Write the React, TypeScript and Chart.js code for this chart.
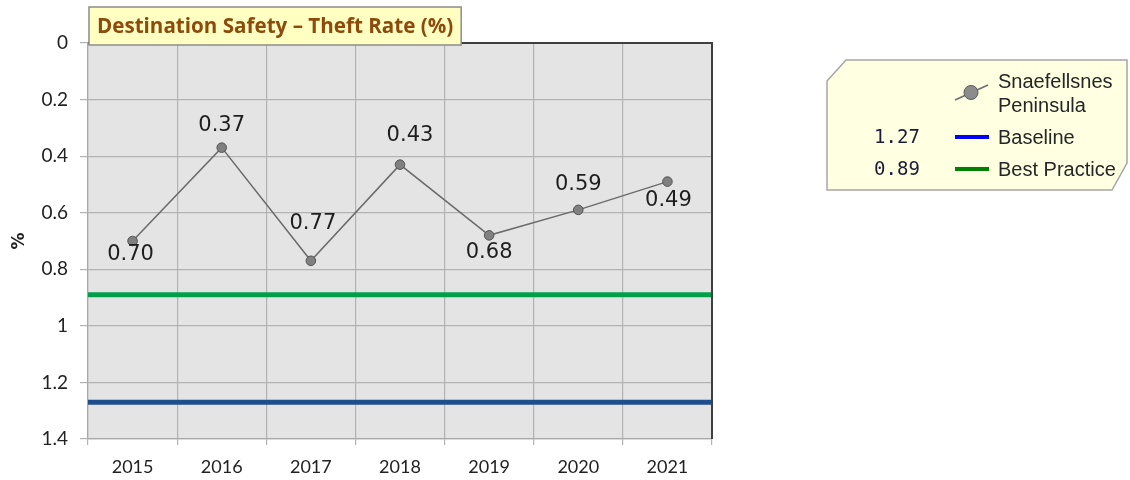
import React, { useEffect, useRef } from "react";
import { Chart, registerables } from "chart.js";

Chart.register(...registerables);

// ---- data ----
const years = ["2015", "2016", "2017", "2018", "2019", "2020", "2021"];
const theftRate = [0.7, 0.37, 0.77, 0.43, 0.68, 0.59, 0.49];
const seriesName = "Snaefellsnes Peninsula";
const baselineValue = 1.27;
const bestPracticeValue = 0.89;
const baselineLabel = "Baseline";
const bestPracticeLabel = "Best Practice";
const chartTitle = "Destination Safety \u2013 Theft Rate (%)";
const yAxisTitle = "%";
const yMin = 0;
const yMax = 1.4;
const yStep = 0.2;

// label placement (layout only): offsets of each value label from its point
const labelDx = [-2, 0, 2, 10, 0, 0, 1];
const labelDy = [14, -22, -37, -29, 17, -25, 19];

const W = 1130;
const H = 480;

const TICK_FONT = "Lato, 'Open Sans', sans-serif";
const TITLE_TARGET_WIDTH = 357;

const plotPlugin = {
  id: "plotDecor",
  beforeDraw(chart: any) {
    const { ctx, chartArea } = chart;
    ctx.save();
    ctx.fillStyle = "#FFFFFF";
    ctx.fillRect(0, 0, chart.width, chart.height);
    ctx.fillStyle = "#E4E4E4";
    ctx.fillRect(chartArea.left, chartArea.top, chartArea.right - chartArea.left, chartArea.bottom - chartArea.top);
    ctx.restore();
  },
  beforeDatasetsDraw(chart: any) {
    const { ctx, chartArea, scales } = chart;
    const y = scales.y;
    ctx.save();
    ctx.lineCap = "butt";
    ctx.lineWidth = 5;
    ctx.strokeStyle = "#00A04A";
    const yb = y.getPixelForValue(bestPracticeValue);
    ctx.beginPath();
    ctx.moveTo(chartArea.left, yb);
    ctx.lineTo(chartArea.right, yb);
    ctx.stroke();
    ctx.strokeStyle = "#1F4E8C";
    const yl = y.getPixelForValue(baselineValue);
    ctx.beginPath();
    ctx.moveTo(chartArea.left, yl);
    ctx.lineTo(chartArea.right, yl);
    ctx.stroke();
    ctx.restore();
  },
  afterDatasetsDraw(chart: any) {
    const { ctx } = chart;
    const meta = chart.getDatasetMeta(0);
    ctx.save();
    ctx.font = "21px 'DejaVu Sans', sans-serif";
    ctx.fillStyle = "#1E1E1E";
    ctx.textAlign = "center";
    ctx.textBaseline = "middle";
    meta.data.forEach((pt: any, i: number) => {
      ctx.fillText(theftRate[i].toFixed(2), pt.x + labelDx[i], pt.y + labelDy[i]);
    });
    ctx.restore();
  },
  afterDraw(chart: any) {
    const { ctx, chartArea } = chart;
    ctx.save();
    // top & right frame
    ctx.strokeStyle = "#3F3F3F";
    ctx.lineWidth = 2;
    ctx.beginPath();
    ctx.moveTo(chartArea.left, chartArea.top);
    ctx.lineTo(chartArea.right, chartArea.top);
    ctx.lineTo(chartArea.right, chartArea.bottom);
    ctx.stroke();

    // title box
    let fs = 18;
    ctx.font = `bold ${fs}px 'Open Sans', sans-serif`;
    const w0 = ctx.measureText(chartTitle).width;
    fs = Math.round(fs * (TITLE_TARGET_WIDTH / w0) * 10) / 10;
    ctx.font = `bold ${fs}px 'Open Sans', sans-serif`;
    const tw = ctx.measureText(chartTitle).width;
    const bx = 89;
    const by = 7;
    const bw = tw + 16;
    const bh = 38;
    ctx.fillStyle = "#FFFFC2";
    ctx.fillRect(bx, by, bw, bh);
    ctx.strokeStyle = "#8C8C8C";
    ctx.lineWidth = 1.5;
    ctx.strokeRect(bx, by, bw, bh);
    ctx.fillStyle = "#8E4A0C";
    ctx.textAlign = "left";
    ctx.textBaseline = "middle";
    ctx.fillText(chartTitle, bx + 8, by + bh / 2 + 1);

    // legend box
    ctx.beginPath();
    ctx.moveTo(827, 81);
    ctx.lineTo(846, 60);
    ctx.lineTo(1127, 60);
    ctx.lineTo(1127, 163);
    ctx.lineTo(1112, 190);
    ctx.lineTo(827, 190);
    ctx.closePath();
    ctx.fillStyle = "#FFFFE1";
    ctx.fill();
    ctx.strokeStyle = "#A6A6A6";
    ctx.lineWidth = 1.5;
    ctx.stroke();

    // series icon
    ctx.strokeStyle = "#6E6E6E";
    ctx.lineWidth = 1.5;
    ctx.beginPath();
    ctx.moveTo(955, 100);
    ctx.lineTo(988, 85);
    ctx.stroke();
    ctx.beginPath();
    ctx.arc(971, 92.5, 7, 0, Math.PI * 2);
    ctx.fillStyle = "#8C8C8C";
    ctx.fill();
    ctx.strokeStyle = "#5A5A5A";
    ctx.lineWidth = 1;
    ctx.stroke();

    ctx.font = "20px 'Liberation Sans', Arial, sans-serif";
    ctx.fillStyle = "#262626";
    ctx.textAlign = "left";
    ctx.textBaseline = "middle";
    const parts = seriesName.split(" ");
    ctx.fillText(parts[0], 998, 82);
    ctx.fillText(parts.slice(1).join(" "), 998, 106);
    ctx.fillText(baselineLabel, 998, 138);
    ctx.fillText(bestPracticeLabel, 998, 170);

    ctx.lineWidth = 4;
    ctx.strokeStyle = "#0000FF";
    ctx.beginPath();
    ctx.moveTo(955, 137);
    ctx.lineTo(989, 137);
    ctx.stroke();
    ctx.strokeStyle = "#008000";
    ctx.beginPath();
    ctx.moveTo(955, 169);
    ctx.lineTo(989, 169);
    ctx.stroke();

    ctx.font = "19px 'DejaVu Sans Mono', monospace";
    ctx.fillStyle = "#1C1C3A";
    ctx.textAlign = "center";
    ctx.fillText(baselineValue.toFixed(2), 897, 138);
    ctx.fillText(bestPracticeValue.toFixed(2), 897, 170);
    ctx.restore();
  },
};

export default function App() {
  const ref = useRef<HTMLCanvasElement>(null);
  useEffect(() => {
    if (!ref.current) return;
    const chart = new Chart(ref.current, {
      type: "line",
      data: {
        labels: years,
        datasets: [
          {
            label: seriesName,
            data: theftRate,
            borderColor: "#6B6B6B",
            borderWidth: 1.5,
            pointRadius: 4.8,
            pointBackgroundColor: "#808080",
            pointBorderColor: "#555555",
            pointBorderWidth: 1,
            tension: 0,
          },
        ],
      },
      options: {
        responsive: false,
        animation: false,
        devicePixelRatio: 1,
        layout: { padding: { left: 0, top: 43, right: W - 712, bottom: 0 } },
        plugins: {
          legend: { display: false },
          tooltip: { enabled: false },
          title: { display: false },
        },
        scales: {
          x: {
            type: "category",
            offset: true,
            grid: {
              offset: true,
              color: "#B2B2B2",
              lineWidth: 1.2,
              tickLength: 6,
              drawTicks: true,
            },
            border: { display: true, color: "#A8A8A8", width: 1.2 },
            ticks: {
              font: { family: TICK_FONT, size: 18 },
              color: "#222222",
              padding: 11,
              maxRotation: 0,
            },
            afterFit: (scale: any) => {
              scale.height = 41;
            },
          },
          y: {
            reverse: true,
            min: yMin,
            max: yMax,
            grid: {
              color: "#B2B2B2",
              lineWidth: 1.2,
              tickLength: 8,
            },
            border: { display: true, color: "#A8A8A8", width: 1.2 },
            ticks: {
              stepSize: yStep,
              font: { family: TICK_FONT, size: 19 },
              color: "#222222",
              padding: 12,
              callback: (v: any) => String(Number(Number(v).toFixed(1))),
            },
            title: {
              display: true,
              text: yAxisTitle,
              font: { family: "'DejaVu Sans', sans-serif", size: 17, weight: "bold" },
              color: "#222222",
              padding: { top: 9, bottom: 0 },
            },
            afterFit: (scale: any) => {
              scale.width = 88;
            },
          },
        },
      },
      plugins: [plotPlugin],
    });
    return () => chart.destroy();
  }, []);
  return (
    <div style={{ position: "absolute", left: 0, top: 0, width: W, height: H, background: "#fff" }}>
      <canvas ref={ref} width={W} height={H} style={{ width: W, height: H, display: "block" }} />
    </div>
  );
}
